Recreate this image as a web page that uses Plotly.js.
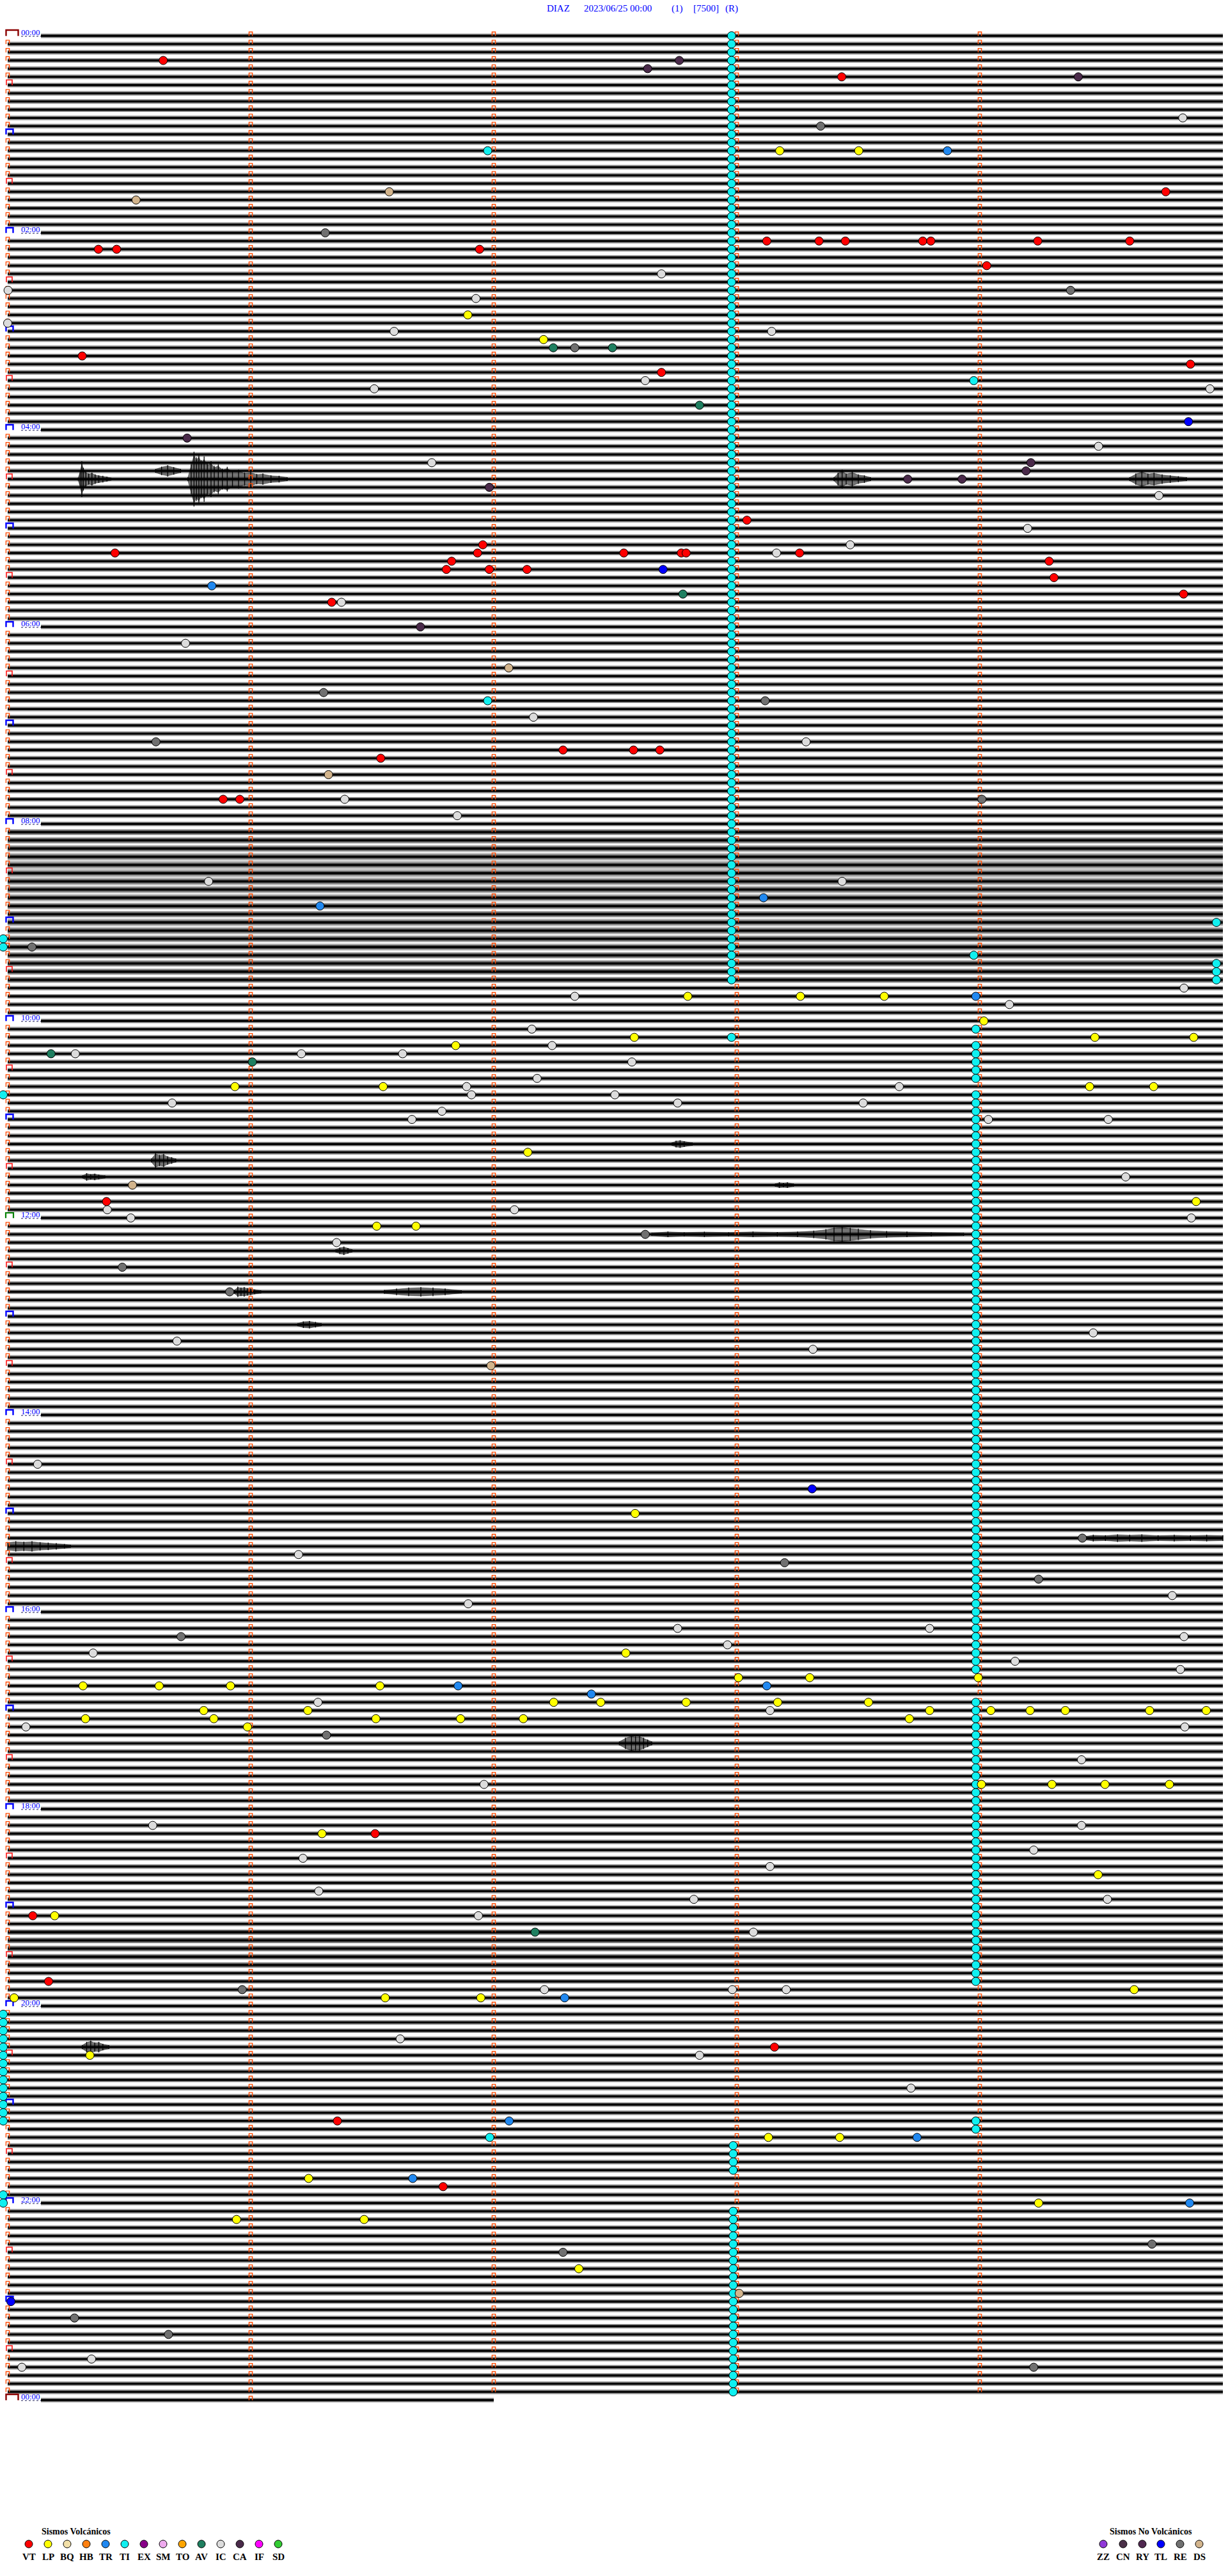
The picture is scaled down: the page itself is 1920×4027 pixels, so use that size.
<!DOCTYPE html>
<html><head><meta charset="utf-8">
<script src="https://cdn.plot.ly/plotly-3.0.1.min.js"></script>
<style>body{margin:0;background:#fff}#chart{width:1920px;height:4027px}</style>
</head><body><div id="chart"></div>
<script>
// ================= DATA =================
const titleParts = ["DIAZ", "2023/06/25 00:00", "(1)", "[7500]", "(R)"];
const nRows = 288;                 // 5-minute lines over 24 h
const lastRowSeconds = 120;        // partial line at next 00:00
const minuteTicks = [0, 60, 120, 180, 240];
const hourLabelRows = [0, 24, 48, 72, 96, 120, 144, 168, 192, 216, 240, 264, 288];
const hourLabels = ["00:00","02:00","04:00","06:00","08:00","10:00","12:00","14:00","16:00","18:00","20:00","22:00","00:00"];

// rows with stronger background noise (amplitude in line units)
const noisyRows  = [97,98,99,100,101,102,103,104,105,106,107,108,109,110,111,112,113,114,115,231,232,233,234,235];
const noisyAmp   = [0.36,0.4,0.42,0.46,0.48,0.48,0.46,0.44,0.44,0.4,0.4,0.44,0.44,0.42,0.42,0.4,0.4,0.38,0.36,0.34,0.36,0.36,0.36,0.34];
const quietAmp = 0.28;

// waveform bursts: row, times (s), half-amplitudes (line units)
const burstRows  = [54, 54, 54, 54, 53, 137, 139, 135, 146, 148, 153, 153, 140, 157, 183, 184, 208, 245];
const burstTimes = [
  [17.4,17.9,18.3,18.7,19.3,20.0,20.8,21.6,22.5,23.5,24.5,25.5],
  [44.5,45.3,46.0,46.6,47.2,47.8,48.5,49.3,50.2,51.0,52.0,53.0,54.2,55.5,57,58.5,60,61.5,63,65,67,69],
  [204,205,206,207,208.5,210,211.5,213],
  [277,278.5,280,281.5,283,285,287,289,291],
  [36.5,38,39.5,41,42.7],
  [35.5,36.5,37.5,38.5,39.5,40.5,41.5],
  [18.5,19.5,20.5,21.5,22.5,24],
  [164,165,166,167,169],
  [159,163,167,172,178,184,190,195,199,202,204,206,208,210,213,217,222,228,236],
  [81,82,83,84,85],
  [56,56.8,57.6,58.4,59.2,60,61,62.5],
  [93,96,99,102,105,108,112],
  [189.5,190.5,191.5,192.5,194],
  [71.6,73,74.5,76,77.4],
  [266,268,271,274,277,280,284,288,292,296,300],
  [0,2,4,6,8,10,12,14,15.5],
  [151,152.5,154,155,156,157,158,159],
  [18.4,19.5,20.5,21.5,22.5,23.5,25]
];
const burstAmps = [
  [0.15,0.9,1.9,1.2,0.8,0.6,0.7,0.5,0.4,0.35,0.25,0.15],
  [0.2,1.6,2.9,2.3,2.7,2.0,2.4,1.7,1.9,1.4,1.6,1.1,1.3,0.9,1.0,0.7,0.8,0.55,0.6,0.4,0.35,0.2],
  [0.2,0.7,1.0,0.6,0.8,0.5,0.4,0.2],
  [0.2,0.6,0.9,0.6,0.7,0.5,0.4,0.3,0.2],
  [0.2,0.45,0.6,0.4,0.2],
  [0.2,0.8,0.6,0.7,0.45,0.35,0.2],
  [0.15,0.4,0.3,0.35,0.25,0.15],
  [0.15,0.35,0.4,0.3,0.15],
  [0.15,0.3,0.22,0.28,0.22,0.3,0.25,0.3,0.4,0.55,0.75,0.85,0.7,0.6,0.45,0.35,0.3,0.22,0.15],
  [0.15,0.35,0.45,0.3,0.15],
  [0.2,0.55,0.45,0.5,0.4,0.35,0.25,0.15],
  [0.2,0.35,0.45,0.5,0.45,0.35,0.15],
  [0.15,0.3,0.25,0.3,0.15],
  [0.15,0.35,0.4,0.3,0.15],
  [0.2,0.35,0.3,0.4,0.35,0.4,0.3,0.35,0.3,0.35,0.3],
  [0.45,0.55,0.5,0.55,0.45,0.4,0.35,0.25,0.15],
  [0.2,0.6,0.9,0.75,0.8,0.6,0.4,0.2],
  [0.2,0.55,0.7,0.5,0.55,0.35,0.2]
];

// events: [row, seconds into the 5-min line]
const VT = [[3,38.4],[5,205.9],[19,285.9],[25,187.4],[25,200.3],[25,206.8],[25,225.9],[25,227.9],[25,254.3],[25,277.0],
  [26,22.4],[26,26.9],[26,116.5],[28,241.7],[39,18.4],[40,292],[41,161.4],[59,182.5],[62,117.3],
  [63,26.5],[63,116.0],[63,152.1],[63,166.3],[63,167.5],[63,195.5],[64,109.6],[64,257.1],
  [65,108.3],[65,118.9],[65,128.2],[66,258.3],[68,290.3],[69,80.0],[87,137.1],[87,154.5],[87,161.0],
  [88,92.1],[93,53.2],[93,57.3],[142,24.4],[219,90.7],[229,6.2],[237,10.1],[245,189.3],[254,81.4],[262,107.5]];
const LP = [[14,190.6],[14,210.1],[34,113.6],[37,132.3],[117,167.9],[117,195.7],[117,216.4],[120,241.0],
  [122,154.7],[122,268.4],[122,292.8],[123,110.6],[128,56.1],[128,92.7],[128,267.1],[128,282.9],[136,128.4],
  [142,293.4],[145,91.1],[145,100.8],[180,154.9],[197,152.6],[200,180.4],[200,198.0],[200,239.6],
  [201,18.6],[201,37.4],[201,55.0],[201,91.9],[203,134.8],[203,146.4],[203,167.5],[203,190.1],[203,212.5],
  [204,48.4],[204,74.1],[204,227.6],[204,242.7],[204,252.4],[204,261.1],[204,281.9],[204,295.9],
  [205,19.2],[205,50.9],[205,90.9],[205,111.8],[205,127.3],[205,222.6],[206,59.2],
  [213,240.4],[213,257.8],[213,270.9],[213,286.8],[219,77.6],[224,269.2],[229,11.6],[238,278.1],
  [239,1.6],[239,93.2],[239,116.8],[246,20.3],[256,187.8],[256,205.4],[261,74.3],[264,254.5],
  [266,56.5],[266,88.0],[272,141.0]];
const TR = [[14,232.0],[67,50.4],[105,186.6],[106,77.1],[117,239.0],[201,111.2],[201,187.4],[202,144.1],
  [239,137.5],[254,123.8],[256,224.5],[261,100.0],[264,291.8]];
const tiColumnA = [0,1,2,3,4,5,6,7,8,9,10,11,12,13,14,15,16,17,18,19,20,21,22,23,24,25,26,27,28,29,30,31,32,33,34,35,36,37,38,39,
  40,41,42,43,44,45,46,47,48,49,50,51,52,53,54,55,56,57,58,59,60,61,62,63,64,65,66,67,68,69,70,71,72,73,74,75,76,77,78,79,
  80,81,82,83,84,85,86,87,88,89,90,91,92,93,94,95,96,97,98,99,100,101,102,103,104,105,106,107,108,109,110,111,112,113,114,115];
const tiColumnATime = 178.7;
const tiColumnB = [121,123,124,125,126,127,129,130,131,132,133,134,135,136,137,138,139,140,141,142,143,144,145,146,147,148,149,
  150,151,152,153,154,155,156,157,158,159,160,161,162,163,164,165,166,167,168,169,170,171,172,173,174,175,176,177,178,179,
  180,181,182,183,184,185,186,187,188,189,190,191,192,193,194,195,196,197,198,199,203,204,205,206,207,208,209,
  210,211,212,213,214,215,216,217,218,219,220,221,222,223,224,225,226,227,228,229,230,231,232,233,234,235,236,237,254,255];
const tiColumnBTime = 239.0;
const tiColumnC = [257,258,259,260,265,266,267,268,269,270,271,272,273,274,275,276,277,278,279,280,281,282,283,284,285,286,287];
const tiColumnCTime = 179.1;
const tiEdge = [110,111,129,241,242,243,244,245,246,247,248,249,250,251,252,253,254,263,264];
const tiEdgeTime = -1.1;
const TI_other = [[14,118.5],[81,118.5],[42,238.5],[112,238.5],[122,178.7],[108,298.4],[113,298.4],[114,298.4],[115,298.4],[256,119.0]];
const AV = [[38,134.7],[38,149.3],[45,170.8],[68,166.7],[124,10.7],[125,60.4],[231,130.2]];
const IC = [[10,290.1],[29,161.4],[31,0.1],[32,115.6],[35,0],[36,95.4],[36,188.6],[42,157.4],[43,90.5],[43,296.8],
  [50,269.3],[52,104.7],[56,284.2],[60,251.8],[62,208],[63,189.8],[69,82.4],[74,43.9],[83,129.8],[86,197.1],
  [93,83.2],[95,111],[103,49.6],[103,206],[116,290.4],[117,140.0],[118,247.3],[121,129.4],[123,134.4],
  [124,16.7],[124,72.5],[124,97.5],[125,154.1],[127,130.7],[128,113.3],[128,220.1],[129,114.5],[129,149.9],
  [130,40.6],[130,165.4],[130,211.2],[131,107.2],[132,99.8],[132,242.1],[132,271.7],[139,276.0],[143,24.6],
  [143,125.1],[144,30.4],[144,292.2],[147,81.2],[158,268.0],[159,41.8],[160,198.8],[174,7.4],[185,71.8],
  [190,287.5],[191,113.7],[194,165.4],[194,227.6],[195,290.4],[196,177.7],[197,21.1],[198,248.7],[199,289.5],
  [203,76.6],[204,188.2],[206,4.5],[206,290.6],[210,265.1],[213,117.6],[218,35.8],[218,265.1],[221,253.3],
  [222,72.9],[223,188.2],[226,76.8],[227,169.4],[227,271.5],[229,116.2],[231,184.1],[238,132.5],[238,178.9],
  [238,192.2],[244,96.9],[246,170.8],[250,223.0],[283,20.7],[284,3.5]];
const CA = [[3,165.8],[4,158],[5,264.3],[49,44.3],[52,252.6],[53,251.4],[54,222.2],[54,235.6],[55,118.9],[72,101.9]];
const TL = [[47,291.5],[65,161.8],[177,198.6],[276,0.8]];
const RE = [[11,200.7],[24,78.4],[31,262.4],[38,140],[80,78],[81,187],[86,36.6],[93,240.5],[111,6],[146,157.4],
  [150,28.3],[153,54.8],[183,265.3],[186,191.8],[188,254.5],[195,42.8],[207,78.7],[238,57.9],[269,282.5],
  [270,137.1],[278,16.5],[280,39.7],[284,253.3]];
const DS = [[19,94.2],[20,31.7],[77,123.7],[90,79.2],[140,30.8],[162,119.3],[275,180.6]];

const volcanicTypes  = ["VT","LP","BQ","HB","TR","TI","EX","SM","TO","AV","IC","CA","IF","SD"];
const volcanicColors = ["#ff0000","#ffff00","#f2e0a8","#ff8010","#2088f0","#10f0f0","#880088","#eeaaee","#ffa500","#1f7f60","#dcdcdc","#4a2a4a","#ff00ff","#33cc33"];
const nonVolcanicTypes  = ["ZZ","CN","RY","TL","RE","DS"];
const nonVolcanicColors = ["#9038d8","#4a3048","#502850","#0000ff","#707070","#d2b48c"];

// ================= GEOMETRY =================
const W = 1920, H = 4027;
const X0 = 12, PXS = 1900 / 300, Y0 = 56, RH = (3752 - 56) / 288;
const tx = px => (px - X0) / PXS;
const ry = py => (py - Y0) / RH;
const colorOf = k => { let i = volcanicTypes.indexOf(k); if (i >= 0) return volcanicColors[i]; return nonVolcanicColors[nonVolcanicTypes.indexOf(k)]; };

const traces = [];
const labelStart = tx(64);
const isLabelRow = r => hourLabelRows.indexOf(r) >= 0;
const rowEnd = r => (r === nRows ? lastRowSeconds : 300);

// quiet background bands
{
  const x = [], y = [];
  for (let r = 0; r <= nRows; r++) {
    if (noisyRows.indexOf(r) >= 0) continue;
    x.push(isLabelRow(r) ? labelStart : 0, rowEnd(r), null); y.push(r, r, null);
  }
  traces.push({type:'scatter', mode:'lines', x, y, line:{color:'rgba(0,0,0,0.42)', width:2*quietAmp*RH}, hoverinfo:'skip', showlegend:false});
}
// noisy bands
noisyRows.forEach((r, i) => {
  traces.push({type:'scatter', mode:'lines', x:[isLabelRow(r) ? labelStart : 0, 300], y:[r, r], line:{color:'rgba(0,0,0,0.28)', width:2*noisyAmp[i]*RH}, hoverinfo:'skip', showlegend:false});
  traces.push({type:'scatter', mode:'lines', x:[isLabelRow(r) ? labelStart : 0, 300], y:[r, r], line:{color:'rgba(0,0,0,0.45)', width:2*quietAmp*RH}, hoverinfo:'skip', showlegend:false});
});
// core trace lines
{
  const x = [], y = [];
  for (let r = 0; r <= nRows; r++) { x.push(isLabelRow(r) ? labelStart : 0, rowEnd(r), null); y.push(r, r, null); }
  traces.push({type:'scatter', mode:'lines', x, y, line:{color:'#000', width:3.4}, hoverinfo:'skip', showlegend:false});
}
// underline under hour labels
{
  const x = [], y = [];
  hourLabelRows.forEach(r => { x.push(tx(33), labelStart, null); y.push(r + 0.06, r + 0.06, null); });
  traces.push({type:'scatter', mode:'lines', x, y, line:{color:'#202060', width:1, dash:'dot'}, hoverinfo:'skip', showlegend:false});
}
// bursts: translucent envelope + vertical strokes at each read point
burstRows.forEach((r, i) => {
  const t = burstTimes[i], a = burstAmps[i];
  const x = t.concat(t.slice().reverse());
  const y = t.map((_, j) => r - a[j]).concat(t.map((_, j) => r + a[j]).reverse());
  traces.push({type:'scatter', mode:'lines', x, y, fill:'toself', fillcolor:'rgba(0,0,0,0.55)', line:{color:'rgba(0,0,0,0.7)', width:0.6}, hoverinfo:'skip', showlegend:false});
  const sx = [], sy = [];
  t.forEach((tt, j) => { sx.push(tt, tt, null); sy.push(r - a[j] * 1.15, r + a[j] * 1.15, null); });
  traces.push({type:'scatter', mode:'lines', x:sx, y:sy, line:{color:'#000', width:1.3}, hoverinfo:'skip', showlegend:false});
});
// minute brackets
function bracket(arrX, arrY, t, r, halfPx, hPx) {
  const dx = halfPx / PXS, dy = hPx / RH;
  arrX.push(t - dx, t - dx, t + dx, t + dx, null);
  arrY.push(r + 0.02, r - dy, r - dy, r + 0.02, null);
}
{
  const ox = [], oy = [], rx = [], ryy = [], bx = [], by = [], dx = [], dy = [], gx = [], gy = [];
  for (let r = 0; r < nRows + 1; r++) {
    minuteTicks.forEach(m => {
      if (r === nRows && m >= lastRowSeconds) return;
      if (m === 0 && r % 6 === 0) {
        if (r === 0 || r === nRows) bracket(dx, dy, tx(19), r, 9.5, 9);
        else if (r === 144) bracket(gx, gy, tx(15), r, 6, 8);
        else if (r % 12 === 0) bracket(bx, by, tx(15), r, 5.5, 8);
        else bracket(rx, ryy, tx(14.5), r, 4.5, 8);
      } else {
        bracket(ox, oy, m, r + 0.0, 2.6, 6);
      }
    });
  }
  traces.push({type:'scatter', mode:'lines', x:ox, y:oy, line:{color:'#ff4a00', width:1.4}, hoverinfo:'skip', showlegend:false});
  traces.push({type:'scatter', mode:'lines', x:rx, y:ryy, line:{color:'#ff1010', width:1.6}, hoverinfo:'skip', showlegend:false});
  traces.push({type:'scatter', mode:'lines', x:bx, y:by, line:{color:'#0000ff', width:2.4}, hoverinfo:'skip', showlegend:false});
  traces.push({type:'scatter', mode:'lines', x:gx, y:gy, line:{color:'#008000', width:2.2}, hoverinfo:'skip', showlegend:false});
  traces.push({type:'scatter', mode:'lines', x:dx, y:dy, line:{color:'#8b0000', width:2.4}, hoverinfo:'skip', showlegend:false});
}
// events
function eventTrace(list, key) {
  return {type:'scatter', mode:'markers', name:key, x:list.map(p => p[1]), y:list.map(p => p[0]),
    marker:{size:13, color:colorOf(key), line:{color:'#000', width:1}}, hoverinfo:'skip', showlegend:false};
}
const tiAll = TI_other
  .concat(tiColumnA.map(r => [r, tiColumnATime]))
  .concat(tiColumnB.map(r => [r, tiColumnBTime]))
  .concat(tiColumnC.map(r => [r, tiColumnCTime]))
  .concat(tiEdge.map(r => [r, tiEdgeTime]));
traces.push(eventTrace(tiAll, 'TI'));
[[IC,'IC'],[RE,'RE'],[DS,'DS'],[CA,'CA'],[AV,'AV'],[TR,'TR'],[TL,'TL'],[LP,'LP'],[VT,'VT']].forEach(p => traces.push(eventTrace(p[0], p[1])));

// legend symbols
const legY = ry(3977);
traces.push({type:'scatter', mode:'markers', x:volcanicTypes.map((_, k) => tx(45 + 30 * k)), y:volcanicTypes.map(() => legY),
  marker:{size:12, color:volcanicColors, line:{color:'#000', width:1}}, hoverinfo:'skip', showlegend:false});
const nvX = [1725, 1756, 1786, 1815, 1845, 1875];
traces.push({type:'scatter', mode:'markers', x:nonVolcanicTypes.map((_, k) => tx(nvX[k])), y:nonVolcanicTypes.map(() => legY),
  marker:{size:12, color:nonVolcanicColors, line:{color:'#000', width:1}}, hoverinfo:'skip', showlegend:false});

// ================= ANNOTATIONS =================
const ann = [];
const titleX = [853, 911, 1048, 1082, 1132];
titleParts.forEach((s, i) => ann.push({xref:'paper', yref:'paper', x:titleX[i] / W, y:1 - 13 / H, xanchor:'left', yanchor:'middle',
  text:s, showarrow:false, font:{family:'Liberation Serif, Times New Roman, serif', size:15, color:'#0000ff'}}));
hourLabelRows.forEach((r, i) => ann.push({x:tx(32), y:r, xanchor:'left', yanchor:'bottom', yshift:-3, text:hourLabels[i], showarrow:false,
  borderpad:0, font:{family:'Liberation Serif, Times New Roman, serif', size:13, color:'#0000ff'}}));
ann.push({x:tx(63), y:ry(3957), xanchor:'left', yanchor:'middle', text:'<b>Sismos Volcánicos</b>', showarrow:false,
  font:{family:'Liberation Serif, serif', size:14, color:'#000'}});
ann.push({x:tx(1733), y:ry(3957), xanchor:'left', yanchor:'middle', text:'<b>Sismos No Volcánicos</b>', showarrow:false,
  font:{family:'Liberation Serif, serif', size:14, color:'#000'}});
volcanicTypes.forEach((s, k) => ann.push({x:tx(45 + 30 * k), y:ry(3997), xanchor:'center', yanchor:'middle', text:'<b>' + s + '</b>', showarrow:false,
  font:{family:'Liberation Serif, serif', size:15, color:'#000'}}));
nonVolcanicTypes.forEach((s, k) => ann.push({x:tx(nvX[k]), y:ry(3997), xanchor:'center', yanchor:'middle', text:'<b>' + s + '</b>', showarrow:false,
  font:{family:'Liberation Serif, serif', size:15, color:'#000'}}));

const layout = {
  width:W, height:H, margin:{l:0, r:0, t:0, b:0, pad:0}, paper_bgcolor:'#fff', plot_bgcolor:'#fff', showlegend:false,
  xaxis:{range:[tx(0), tx(W)], visible:false, fixedrange:true},
  yaxis:{range:[ry(H), ry(0)], visible:false, fixedrange:true},
  annotations:ann
};
Plotly.newPlot('chart', traces, layout, {staticPlot:true, displayModeBar:false});
</script>
</body></html>
